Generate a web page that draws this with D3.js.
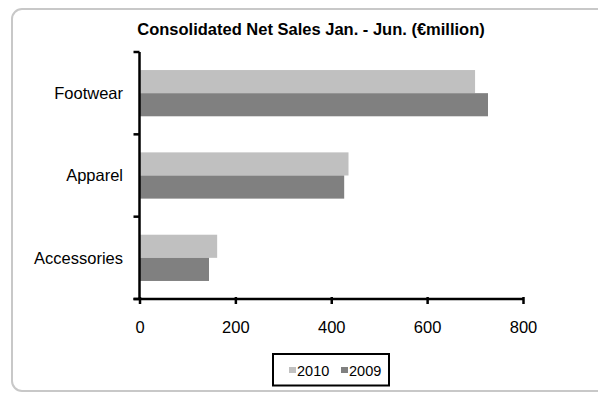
<!DOCTYPE html>
<html>
<head>
<meta charset="utf-8">
<script src="https://cdn.jsdelivr.net/npm/d3@7/dist/d3.min.js"></script>
<style>
  html, body { margin: 0; padding: 0; background: #fff; }
  svg { display: block; }
  text { font-family: "Liberation Sans", Arial, sans-serif; fill: #000; }
</style>
</head>
<body>
<svg id="chart" width="598" height="393"></svg>
<script>
// Consolidated net sales, January–June, in € million
const categories = ["Footwear", "Apparel", "Accessories"];
const seriesNames = ["2010", "2009"];
const sales2010 = [700, 436, 162];
const sales2009 = [727, 427, 145];
const xTicks = [0, 200, 400, 600, 800];
const seriesColors = ["#c0c0c0", "#808080"];
const title = "Consolidated Net Sales Jan. - Jun. (\u20ACmillion)";

const svg = d3.select("#chart");

// outer chart frame (rounded, runs off the right edge)
svg.append("rect")
  .attr("x", 12).attr("y", 9)
  .attr("width", 640).attr("height", 382)
  .attr("rx", 10).attr("ry", 10)
  .attr("fill", "#fff")
  .attr("stroke", "#c8c8c8")
  .attr("stroke-width", 2);

// title
svg.append("text")
  .attr("x", 311).attr("y", 35)
  .attr("text-anchor", "middle")
  .attr("font-weight", "bold")
  .attr("font-size", 16.5)
  .text(title);

const plot = { left: 139.5, right: 523, top: 52, bottom: 299 };

const x = d3.scaleLinear().domain([0, 800]).range([plot.left, plot.right]);
const y = d3.scaleBand().domain(categories).range([plot.top, plot.bottom]).paddingInner(0).paddingOuter(0);
const ySub = d3.scaleBand().domain(seriesNames).range([0, y.bandwidth()]).paddingInner(0).paddingOuter(0.78);

const rows = categories.map((c, i) => ({ cat: c, values: [sales2010[i], sales2009[i]] }));

// bars
const groups = svg.append("g").selectAll("g").data(rows).join("g")
  .attr("transform", d => `translate(0,${y(d.cat)})`);
groups.selectAll("rect")
  .data(d => d.values.map((v, k) => ({ series: seriesNames[k], value: v, k })))
  .join("rect")
  .attr("x", x(0))
  .attr("y", d => ySub(d.series))
  .attr("width", d => x(d.value) - x(0))
  .attr("height", ySub.bandwidth())
  .attr("fill", d => seriesColors[d.k]);

// y axis: line with ticks on category boundaries
const yAxisG = svg.append("g");
yAxisG.append("line")
  .attr("x1", x(0)).attr("x2", x(0))
  .attr("y1", plot.top).attr("y2", plot.bottom)
  .attr("stroke", "#000").attr("stroke-width", 2.5);
const boundaries = categories.map(c => y(c)).concat([plot.bottom]);
yAxisG.selectAll("line.tick").data(boundaries).join("line")
  .attr("class", "tick")
  .attr("x1", x(0) - 6).attr("x2", x(0))
  .attr("y1", d => d).attr("y2", d => d)
  .attr("stroke", "#000").attr("stroke-width", 2.5);
yAxisG.selectAll("text").data(categories).join("text")
  .attr("x", 123)
  .attr("y", d => y(d) + y.bandwidth() / 2)
  .attr("dy", "0.35em")
  .attr("text-anchor", "end")
  .attr("font-size", 16.5)
  .text(d => d);

// x axis
const xAxisG = svg.append("g")
  .attr("transform", `translate(0,${plot.bottom})`)
  .call(d3.axisBottom(x).tickValues(xTicks).tickSize(5).tickPadding(17.5).tickSizeOuter(0));
xAxisG.select(".domain").remove();
xAxisG.insert("line", ":first-child")
  .attr("x1", x(0) - 6).attr("x2", x(800))
  .attr("stroke", "#000").attr("stroke-width", 2.5);
xAxisG.selectAll(".tick line")
  .attr("y1", -2)
  .attr("stroke", "#000").attr("stroke-width", 2.5);
xAxisG.selectAll(".tick text")
  .attr("font-size", 16.5)
  .attr("font-family", "Liberation Sans, Arial, sans-serif")
  .attr("fill", "#000");

// legend
const legend = svg.append("g");
legend.append("rect")
  .attr("x", 273).attr("y", 354)
  .attr("width", 116).attr("height", 31.5)
  .attr("fill", "#fff")
  .attr("stroke", "#000").attr("stroke-width", 2);
const legendX = [289, 341];
seriesNames.forEach((name, k) => {
  legend.append("rect")
    .attr("x", legendX[k]).attr("y", 367)
    .attr("width", 7).attr("height", 6)
    .attr("fill", seriesColors[k]);
  legend.append("text")
    .attr("x", legendX[k] + 8).attr("y", 370.5)
    .attr("dy", "0.35em")
    .attr("font-size", 14.5)
    .text(name);
});
</script>
</body>
</html>
